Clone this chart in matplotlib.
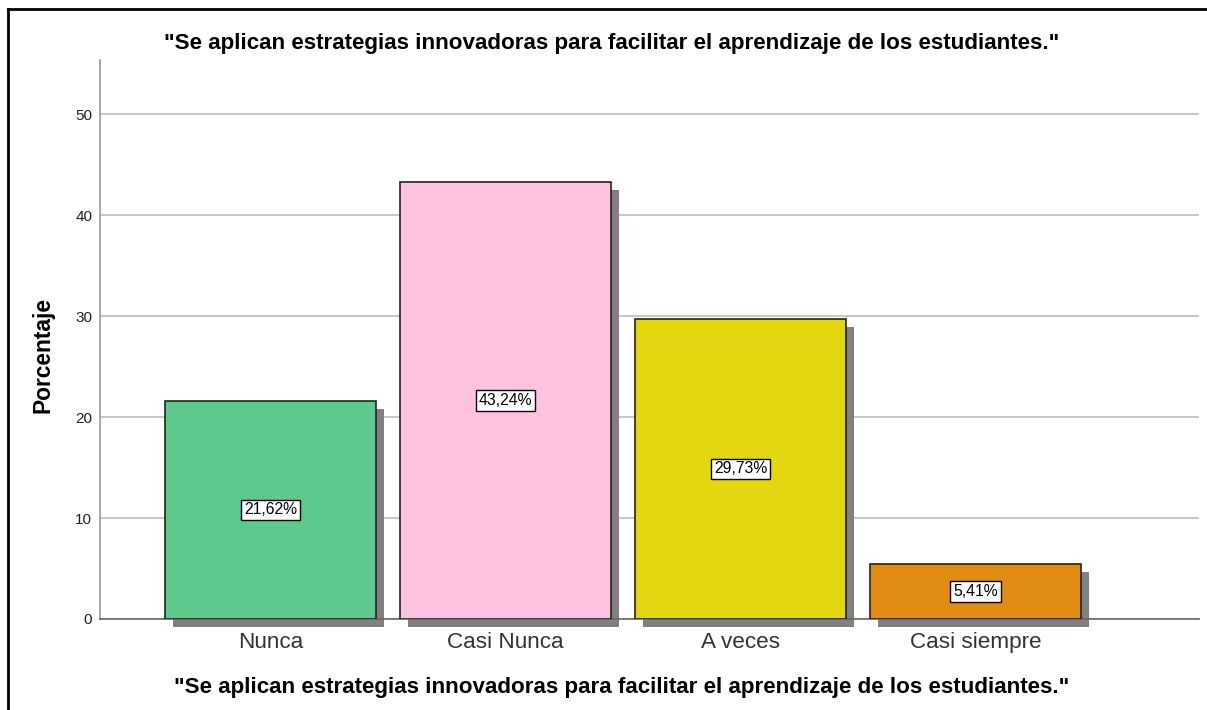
import numpy as np
import matplotlib.pyplot as plt
import matplotlib.transforms as transforms
from matplotlib.lines import Line2D

# datos
categorias = ["Nunca", "Casi Nunca", "A veces", "Casi siempre"]
porcentajes = [21.62, 43.24, 29.73, 5.41]
etiquetas = ["21,62%", "43,24%", "29,73%", "5,41%"]
colores = ["#5ec98c", "#fec3e1", "#e3d710", "#e08b12"]
yticks = [0, 10, 20, 30, 40, 50]

titulo = '"Se aplican estrategias innovadoras para facilitar el aprendizaje de los estudiantes."'

plt.rcParams['font.family'] = ['Liberation Sans', 'DejaVu Sans']

fig = plt.figure(figsize=(12.07, 7.10), dpi=100)
ax = fig.add_axes([100/1207, 91/710, 1099/1207, 559/710])

x = np.arange(len(categorias))

# sombra de las barras (desplazada unos pixeles)
sombra = ax.transData + transforms.ScaledTranslation(8/100, -8/100, fig.dpi_scale_trans)
ax.bar(x, porcentajes, width=0.9, color="#808080", edgecolor="none",
       transform=sombra, zorder=2, clip_on=False)
ax.bar(x, porcentajes, width=0.9, color=colores, edgecolor="#222222",
       linewidth=1.2, zorder=3)

for xi, v, txt in zip(x, porcentajes, etiquetas):
    ax.text(xi, v/2, txt, ha="center", va="center", fontsize=11.3, zorder=5,
            bbox=dict(boxstyle="square,pad=0.18", fc="white", ec="black", lw=1))

ax.set_xlim(-0.726, 3.951)
ax.set_ylim(0, 55.35)
ax.set_yticks(yticks)
ax.set_xticks(x)
ax.set_xticklabels(categorias, fontsize=16.2, color="#333333")
ax.tick_params(axis="y", length=0, labelsize=11, pad=5.5, colors="#222222")
ax.tick_params(axis="x", length=0, pad=9.5)

ax.yaxis.grid(True, color="#c8c8c8", linewidth=1.5, zorder=0)
ax.set_axisbelow(True)
for s in ["top", "right"]:
    ax.spines[s].set_visible(False)
ax.spines["left"].set_color("#999999")
ax.spines["bottom"].set_color("#666666")
ax.spines["left"].set_linewidth(1.2)
ax.spines["bottom"].set_linewidth(1.2)

fig.text(43/1207, 1 - 355/710, "Porcentaje", rotation=90, ha="center", va="center",
         fontsize=16.4, fontweight="bold")
fig.text(622/1207, 1 - 688/710, titulo, ha="center", va="center",
         fontsize=16.1, fontweight="bold")
fig.text(612/1207, 1 - 43/710, titulo, ha="center", va="center",
         fontsize=16.1, fontweight="bold")

# marco de la imagen
fig.add_artist(Line2D([7.5/1207, 7.5/1207], [0, 1 - 8.5/710], color="black",
                      lw=2, transform=fig.transFigure))
fig.add_artist(Line2D([7.5/1207, 1], [1 - 8.5/710, 1 - 8.5/710], color="black",
                      lw=2, transform=fig.transFigure))

fig.savefig("out.png", dpi=100)
